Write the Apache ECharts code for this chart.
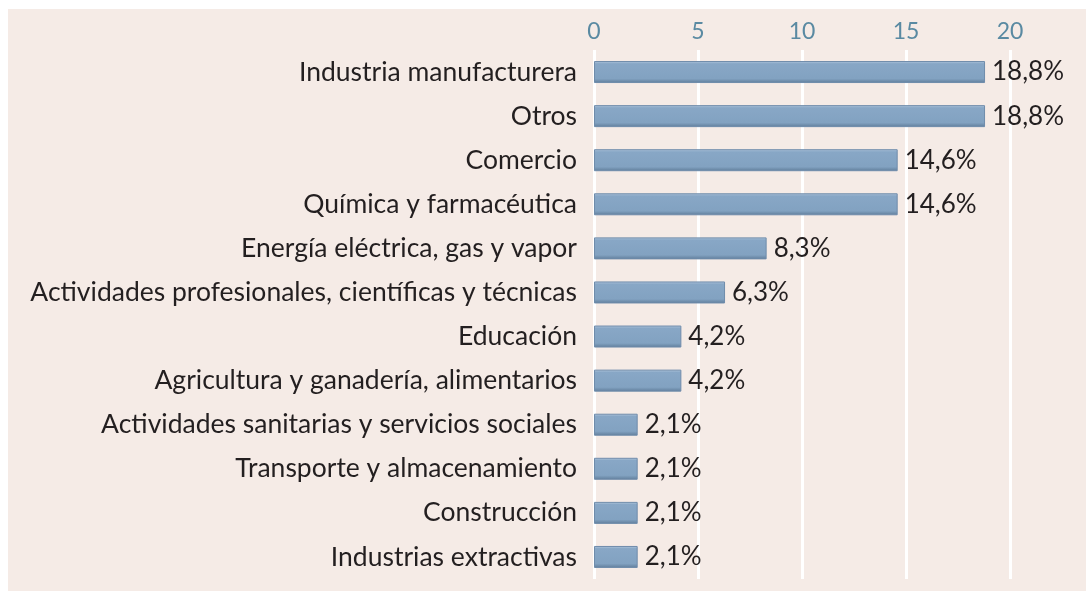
<!DOCTYPE html>
<html>
<head>
<meta charset="utf-8">
<script src="https://cdn.jsdelivr.net/npm/echarts@6/dist/echarts.min.js"></script>
<style>
  html, body { margin: 0; padding: 0; background: #ffffff; }
  #bg { position: absolute; left: 8px; top: 9px; right: 0; bottom: 0; background: #f5ebe6; }
  #main { position: absolute; left: 0; top: 0; width: 1086px; height: 591px; }
</style>
</head>
<body>
<div id="bg"></div>
<div id="main"></div>
<script>
// sectores, de arriba a abajo
const categories = [
  'Industria manufacturera',
  'Otros',
  'Comercio',
  'Química y farmacéutica',
  'Energía eléctrica, gas y vapor',
  'Actividades profesionales, científicas y técnicas',
  'Educación',
  'Agricultura y ganadería, alimentarios',
  'Actividades sanitarias y servicios sociales',
  'Transporte y almacenamiento',
  'Construcción',
  'Industrias extractivas'
];
const values = [18.8, 18.8, 14.6, 14.6, 8.3, 6.3, 4.2, 4.2, 2.1, 2.1, 2.1, 2.1];
const axisTicks = [0, 5, 10, 15, 20];

const chart = echarts.init(document.getElementById('main'), null, { renderer: 'canvas' });

const barFill = new echarts.graphic.LinearGradient(0, 0, 0, 1, [
  { offset: 0, color: '#b7cbe0' },
  { offset: 0.12, color: '#88a7c6' },
  { offset: 0.8, color: '#82a2c1' },
  { offset: 1, color: '#5f7c99' }
]);

const option = {
  backgroundColor: 'transparent',
  animation: false,
  textStyle: { fontFamily: 'Lato, "Noto Sans", sans-serif' },
  grid: { left: 594, right: 76, top: 50, bottom: 12, outerBoundsMode: 'none' },
  xAxis: {
    type: 'value',
    position: 'top',
    min: axisTicks[0],
    max: axisTicks[axisTicks.length - 1],
    interval: 5,
    axisLine: { show: false },
    axisTick: { show: false },
    axisLabel: { color: '#5a8aa2', fontSize: 23, margin: 7 },
    splitLine: { show: true, lineStyle: { color: '#ffffff', width: 3 } }
  },
  yAxis: {
    type: 'category',
    data: categories,
    inverse: true,
    axisLine: { show: false },
    axisTick: { show: false },
    axisLabel: { color: '#231f20', fontSize: 26.5, margin: 17 }
  },
  series: [{
    type: 'bar',
    data: values,
    barWidth: 22,
    itemStyle: { color: barFill, borderColor: '#6f8cab', borderWidth: 1 },
    label: {
      show: true,
      position: 'right',
      distance: 7,
      color: '#231f20',
      fontSize: 26,
      formatter: p => p.value.toFixed(1).replace('.', ',') + '%'
    }
  }]
};

chart.setOption(option);
</script>
</body>
</html>
